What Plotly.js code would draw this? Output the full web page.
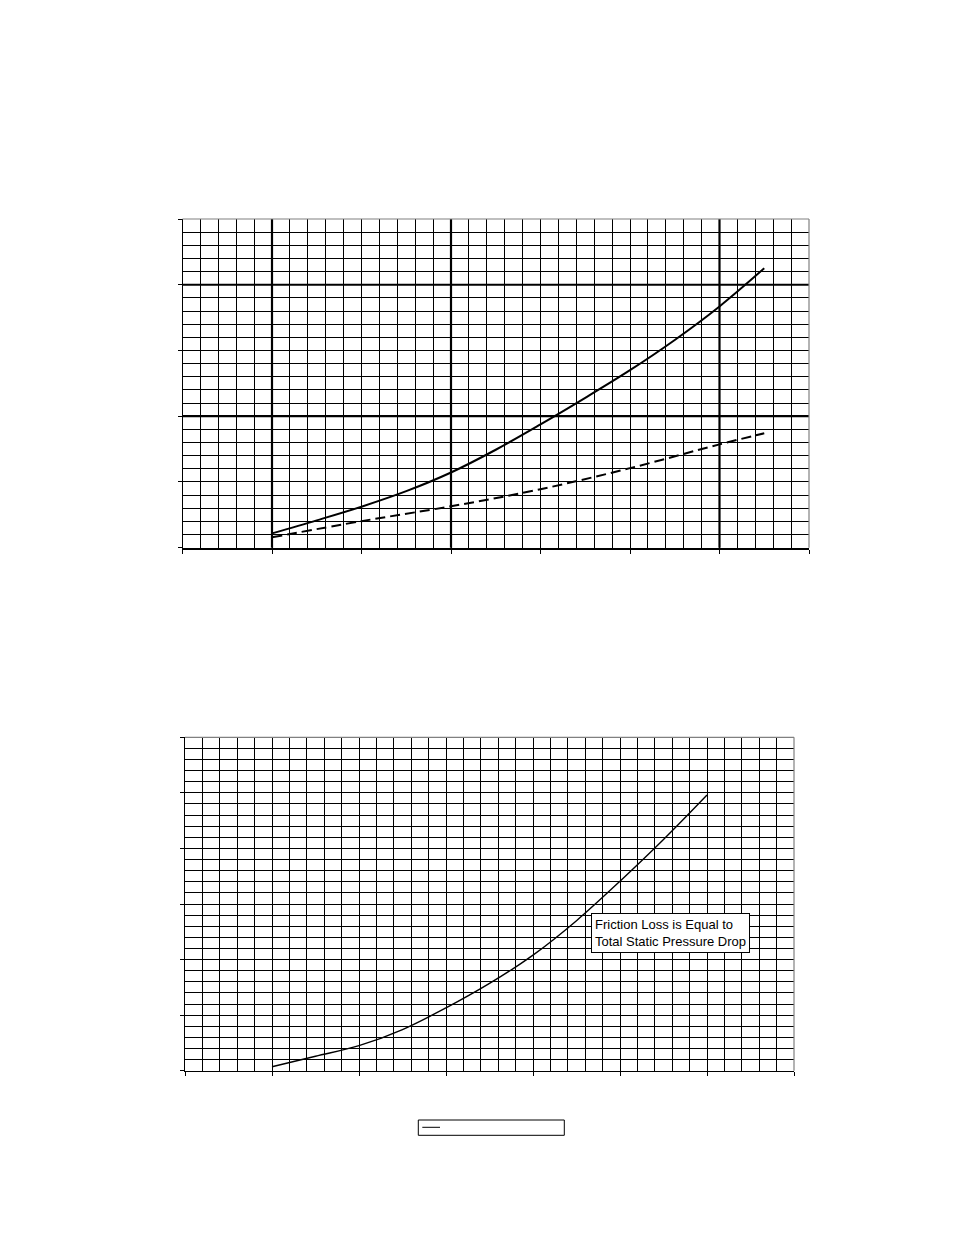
<!DOCTYPE html>
<html>
<head>
<meta charset="utf-8">
<script src="https://cdn.plot.ly/plotly-3.0.1.min.js"></script>
<style>
  html, body { margin: 0; padding: 0; background: #fff; }
  #chart { width: 954px; height: 1235px; }
</style>
</head>
<body>
<div id="chart"></div>
<script>
// upper chart, values in grid units (the original has no tick labels)
const upperX = [5, 7.5, 10, 12.5, 15, 17.5, 20, 22.5, 25, 27.5, 30, 32.5];
const upperSolid = [1.09, 2.08, 3.12, 4.3, 5.72, 7.45, 9.38, 11.4, 13.5, 15.8, 18.35, 21.25];
const upperDashedX = [5, 10, 15, 20, 25, 30, 32.5];
const upperDashed = [0.79, 2.02, 3.15, 4.45, 6.05, 7.86, 8.7];

// lower chart
const lowerX = [5, 7.5, 10, 12.5, 15, 17.5, 20, 22.5, 25, 27.5, 30];
const lowerY = [0.36, 1.3, 2.25, 3.7, 5.65, 7.85, 10.4, 13.5, 17.05, 20.8, 24.8];

const noteText = 'Friction Loss is Equal to<br>Total Static Pressure Drop';

const W = 954, H = 1235;

function gridAxis(domain, max, anchor, lineWidth) {
  return {
    domain: domain,
    anchor: anchor,
    range: [0, max],
    tickmode: 'linear',
    tick0: 0,
    dtick: 5,
    ticks: 'outside',
    ticklen: 4,
    tickcolor: '#000',
    tickwidth: 1,
    showticklabels: false,
    showgrid: true,
    gridcolor: '#000',
    gridwidth: 1,
    minor: { dtick: 1, tick0: 0, showgrid: true, gridcolor: '#000', gridwidth: 1, ticks: '' },
    showline: true,
    linecolor: '#000',
    linewidth: lineWidth,
    zeroline: false,
    fixedrange: true,
  };
}

// heavy lines on the upper grid
const heavyX = [5, 15, 30];
const heavyY = [10, 20];

const shapes = [];
heavyX.forEach((v) => shapes.push({
  type: 'line', xref: 'x', yref: 'y domain', x0: v, x1: v, y0: 0, y1: 1,
  line: { color: '#000', width: 2.2 }, layer: 'below',
}));
heavyY.forEach((v) => shapes.push({
  type: 'line', xref: 'x domain', yref: 'y', x0: 0, x1: 1, y0: v, y1: v,
  line: { color: '#000', width: 2.2 }, layer: 'below',
}));
// grey top/right frame on both charts
[['x', 'y'], ['x2', 'y2']].forEach(([xa, ya]) => {
  shapes.push({ type: 'line', xref: xa + ' domain', yref: ya + ' domain', x0: 0, x1: 1, y0: 1, y1: 1, line: { color: '#808080', width: 1.2 } });
  shapes.push({ type: 'line', xref: xa + ' domain', yref: ya + ' domain', x0: 1, x1: 1, y0: 0, y1: 1, line: { color: '#808080', width: 1.2 } });
});
// legend box under the lower chart (entry has no text)
shapes.push({
  type: 'rect', xref: 'paper', yref: 'paper',
  x0: 418.3 / W, x1: 564.3 / W, y0: 1 - 1135.3 / H, y1: 1 - 1120 / H,
  line: { color: '#000', width: 1 }, fillcolor: '#fff',
});
shapes.push({
  type: 'line', xref: 'paper', yref: 'paper',
  x0: 422.3 / W, x1: 440 / W, y0: 1 - 1127.3 / H, y1: 1 - 1127.3 / H,
  line: { color: '#000', width: 1 },
});

const traces = [
  {
    x: upperX, y: upperSolid, xaxis: 'x', yaxis: 'y', type: 'scatter', mode: 'lines',
    line: { color: '#000', width: 2, shape: 'spline' }, hoverinfo: 'skip',
  },
  {
    x: upperDashedX, y: upperDashed, xaxis: 'x', yaxis: 'y', type: 'scatter', mode: 'lines',
    line: { color: '#000', width: 2, dash: '10px,5px', shape: 'spline' }, hoverinfo: 'skip',
  },
  {
    x: lowerX, y: lowerY, xaxis: 'x2', yaxis: 'y2', type: 'scatter', mode: 'lines',
    line: { color: '#000', width: 1.4, shape: 'spline' }, hoverinfo: 'skip',
  },
];

const layout = {
  width: W,
  height: H,
  margin: { l: 0, r: 0, t: 0, b: 0 },
  paper_bgcolor: '#fff',
  plot_bgcolor: '#fff',
  font: { family: 'Liberation Sans, Arial, sans-serif', size: 13, color: '#000' },
  xaxis: gridAxis([182.5 / W, 809 / W], 35, 'y', 2),
  yaxis: gridAxis([1 - 547.7 / H, 1 - 219 / H], 25, 'x', 1),
  xaxis2: gridAxis([185 / W, 794 / W], 35, 'y2', 1.5),
  yaxis2: gridAxis([1 - 1070.7 / H, 1 - 737.3 / H], 30, 'x2', 1),
  shapes: shapes,
  annotations: [{
    xref: 'x2', yref: 'y2', x: 23.32, y: 14.17,
    xanchor: 'left', yanchor: 'top', align: 'left',
    text: noteText, showarrow: false,
    font: { family: 'Liberation Sans, Arial, sans-serif', size: 13, color: '#000' },
    bgcolor: '#fff', bordercolor: '#000', borderwidth: 1, borderpad: 3,
  }],
  showlegend: false,
  hovermode: false,
};

Plotly.newPlot('chart', traces, layout, { displayModeBar: false, staticPlot: true });
</script>
</body>
</html>
